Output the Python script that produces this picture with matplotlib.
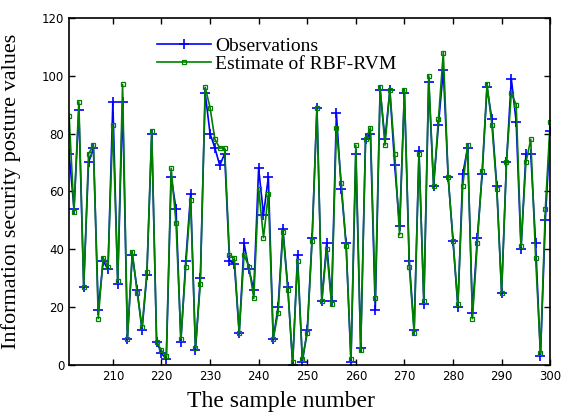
import numpy as np
import matplotlib
matplotlib.use("Agg")
import matplotlib.pyplot as plt

samples = list(range(201, 301))

observations = [
    73, 54, 88, 27, 70, 75, 19, 36, 33, 91,
    28, 91, 9, 38, 26, 12, 31, 80, 8, 4,
    2, 65, 54, 8, 36, 59, 5, 30, 94, 80,
    75, 69, 73, 36, 35, 11, 42, 33, 26, 68,
    52, 65, 9, 20, 47, 27, 0, 38, 1, 12,
    44, 89, 22, 42, 22, 87, 61, 42, 1, 73,
    6, 78, 80, 19, 95, 78, 95, 69, 48, 94,
    36, 12, 74, 21, 98, 62, 83, 102, 65, 43,
    20, 66, 75, 18, 44, 66, 96, 85, 62, 25,
    70, 99, 84, 40, 73, 73, 42, 3, 50, 81,
]

# RBF-RVM estimates
estimates = [
    86, 53, 91, 27, 73, 76, 16, 37, 34, 83,
    29, 97, 9, 39, 25, 13, 32, 81, 8, 5,
    3, 68, 49, 9, 34, 57, 6, 28, 96, 89,
    78, 75, 75, 38, 37, 11, 38, 34, 23, 61,
    44, 59, 9, 18, 46, 26, 1, 36, 2, 11,
    43, 89, 22, 40, 21, 82, 63, 41, 2, 76,
    5, 78, 82, 23, 96, 76, 95, 73, 45, 95,
    34, 11, 73, 22, 100, 62, 85, 108, 65, 43,
    21, 62, 76, 16, 42, 67, 97, 83, 61, 25,
    70, 94, 90, 41, 70, 78, 37, 4, 54, 84,
]

plt.rcParams['font.family'] = ['Liberation Serif', 'DejaVu Serif']

fig = plt.figure(figsize=(5.62, 4.17), dpi=100)
ax = fig.add_axes([0.123, 0.125, 0.856, 0.832])

ax.plot(samples, observations, color='#0000ff', lw=1.2, marker='+',
        ms=7, mew=1.2, label='Observations')
ax.plot(samples, estimates, color='#008000', lw=1.2, marker='s',
        ms=3.2, mfc='none', mew=0.9, label='Estimate of RBF-RVM')

ax.set_xlim(201, 300)
ax.set_ylim(0, 120)
ax.set_xticks(range(210, 301, 10))
ax.set_yticks(range(0, 121, 20))
ax.tick_params(direction='in', top=True, right=True, length=4, width=1)
for lab in ax.get_xticklabels() + ax.get_yticklabels():
    lab.set_fontfamily('DejaVu Sans')
    lab.set_fontsize(8.5)
for s in ax.spines.values():
    s.set_linewidth(1.2)

ax.set_xlabel('The sample number', fontsize=17)
ax.set_ylabel('Information security posture values', fontsize=16)
ax.xaxis.set_label_coords(0.44, -0.075)
ax.yaxis.set_label_coords(-0.1, 0.5)

ax.legend(loc='upper left', bbox_to_anchor=(0.15, 0.99), frameon=False,
          fontsize=14, handlelength=2.8, borderaxespad=0.4,
          labelspacing=0.05, handletextpad=0.2)

fig.savefig('out.png', dpi=100)
